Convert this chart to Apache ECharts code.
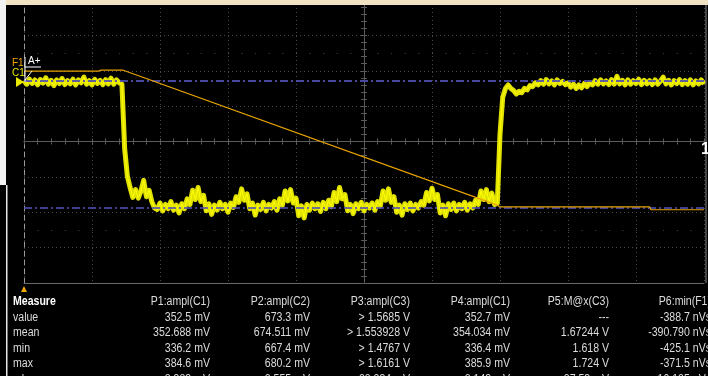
<!DOCTYPE html>
<html>
<head>
<meta charset="utf-8">
<script src="https://cdn.jsdelivr.net/npm/echarts@6/dist/echarts.min.js"></script>
<style>
  html, body { margin: 0; padding: 0; background: #000; }
  #scope { width: 708px; height: 376px; }
</style>
</head>
<body>
<div id="scope"></div>
<script>
// Time base: one sample every 0.04 horizontal divisions (10 divisions on screen)
const sampleStep = 0.04;

// C1 acquisition, vertical position in divisions (screen centre = 0)
const c1Samples = [
  // high level before the falling edge
  1.72,1.62,1.76,1.64,1.74,1.60,1.75,1.65,1.80,1.62,
  1.73,1.58,1.74,1.64,1.78,1.61,1.72,1.63,1.76,1.60,
  1.74,1.66,1.82,1.62,1.72,1.60,1.76,1.64,1.73,1.61,
  1.75,1.63,1.79,1.62,1.74,1.66,
  // falling edge and ringing
  1.62,-0.20,-0.98,-1.30,-1.58,-1.36,-1.60,-1.40,-1.10,-1.56,
  -1.38,-1.70,-1.88,
  // low level
  -1.92,-1.74,-1.96,-1.78,-1.90,-1.70,-1.94,-1.80,-2.02,-1.76,
  -1.90,-1.62,-1.78,-1.38,-1.64,-1.30,-1.70,-1.52,-1.96,-1.76,
  -2.06,-1.80,-1.94,-1.72,-1.90,-1.78,-2.00,-1.74,-1.86,-1.56,
  -1.72,-1.34,-1.66,-1.48,-1.90,-1.74,-2.08,-1.80,-1.92,-1.72,
  -1.96,-1.78,-1.88,-1.70,-1.94,-1.62,-1.80,-1.40,-1.68,-1.36,
  -1.74,-1.60,-2.10,-1.82,-2.16,-1.78,-1.94,-1.74,-1.90,-1.76,
  -1.98,-1.72,-1.90,-1.66,-1.84,-1.44,-1.70,-1.30,-1.62,-1.50,
  -1.96,-1.78,-2.04,-1.76,-1.90,-1.72,-1.96,-1.78,-1.88,-1.74,
  -1.94,-1.70,-1.82,-1.40,-1.66,-1.34,-1.72,-1.56,-2.00,-1.80,
  -2.08,-1.76,-1.92,-1.74,-1.96,-1.78,-1.88,-1.70,-1.80,-1.44,
  -1.68,-1.32,-1.64,-1.50,-2.02,-1.80,-2.10,-1.76,-1.92,-1.74,
  -1.96,-1.78,-1.90,-1.72,-1.94,-1.76,-1.88,-1.66,-1.78,-1.40,
  -1.64,-1.36,-1.70,-1.46,-1.78,
  // rising edge with overshoot and settling
  -1.75,0.20,1.25,1.50,1.60,1.50,1.44,1.34,1.42,1.38,
  1.50,1.46,1.58,1.55,1.66,1.60,
  // high level after the rising edge
  1.72,1.62,1.75,1.63,1.71,1.60,1.74,1.64,1.70,1.61,
  1.66,1.54,1.62,1.50,1.60,1.52,1.64,1.55,1.66,1.60,
  1.72,1.62,1.74,1.63,1.71,1.61,1.75,1.62,1.84,1.63,
  1.73,1.60,1.74,1.62,1.72,1.64,1.76,1.61,1.73,1.63,
  1.72,1.61,1.74,1.62,1.71,1.82,1.63,1.73,1.60,1.72,
  1.64,1.75,1.61,1.72,1.62,1.74,1.60,1.71,1.63,1.74,1.62
];

// F1 math trace vertices [division, division]
const f1Points = [
  [0, 1.99], [1.10, 1.99], [1.13, 2.02], [1.45, 2.02],
  [6.96, -1.80], [7.00, -1.85], [9.20, -1.85], [9.22, -1.93], [10, -1.93]
];

// Measurement level cursors (divisions)
const topLevel = 1.71;
const baseLevel = -1.88;

// Measurement table
const measureHeaders = ['P1:ampl(C1)', 'P2:ampl(C2)', 'P3:ampl(C3)', 'P4:ampl(C1)', 'P5:M@x(C3)', 'P6:min(F1)'];
const rowLabels = ['value', 'mean', 'min', 'max', 'sdev'];
const valueRow = ['352.5 mV', '673.3 mV', '> 1.5685 V', '352.7 mV', '---', '-388.7 nVs'];
const meanRow = ['352.688 mV', '674.511 mV', '> 1.553928 V', '354.034 mV', '1.67244 V', '-390.790 nVs'];
const minRow = ['336.2 mV', '667.4 mV', '> 1.4767 V', '336.4 mV', '1.618 V', '-425.1 nVs'];
const maxRow = ['384.6 mV', '680.2 mV', '> 1.6161 V', '385.9 mV', '1.724 V', '-371.5 nVs'];
const sdevRow = ['8.383 mV', '2.555 mV', '28.234 mV', '8.143 mV', '27.53 mV', '10.125 nVs'];

const c1Data = c1Samples.map((v, i) => [+(i * sampleStep).toFixed(2), v]);

const FONT = '"Liberation Sans", Arial, sans-serif';
const colRight = [210, 310, 410, 510, 609, 711];
const rowY = [302, 317.5, 333, 348.5, 364, 379.5];
const NARROW = 0.88;

function cell(x, y, text, align, fill, weight) {
  return {
    type: 'text', x: x, y: y, scaleX: NARROW, z: 100,
    style: {
      text: text, fill: fill, font: (weight || '') + ' 12px ' + FONT,
      textAlign: align, textVerticalAlign: 'middle'
    }
  };
}

const tableGraphics = [cell(13, rowY[0], 'Measure', 'left', '#ffffff', 'bold')];
measureHeaders.forEach((h, c) => tableGraphics.push(cell(colRight[c], rowY[0], h, 'right', '#dcdcdc')));
[valueRow, meanRow, minRow, maxRow, sdevRow].forEach((row, r) => {
  tableGraphics.push(cell(13, rowY[r + 1], rowLabels[r], 'left', '#dcdcdc'));
  row.forEach((t, c) => tableGraphics.push(cell(colRight[c], rowY[r + 1], t, 'right', '#dcdcdc')));
});

const chart = echarts.init(document.getElementById('scope'), null, { renderer: 'canvas' });

const centreAxis = (inside) => ({
  show: true, splitLine: { show: false },
  axisLine: { show: true, lineStyle: { color: '#5a5a5a', width: 1 } },
  axisTick: { show: true, inside: inside, length: 3, lineStyle: { color: '#5a5a5a' } },
  minorTick: { show: true, splitNumber: 5, length: 3, lineStyle: { color: '#5a5a5a' } },
  axisLabel: { show: false }
});

chart.setOption({
  backgroundColor: '#000000',
  animation: false,
  grid: { left: 24, right: 4, top: 0, bottom: 93 },
  xAxis: [
    {
      type: 'value', min: 0, max: 10, interval: 1,
      axisLine: { show: true, onZero: false, lineStyle: { color: '#6a6a6a' } },
      axisTick: { show: false }, axisLabel: { show: false },
      splitLine: { show: true, lineStyle: { color: '#4a4a4a', type: [1, 3] } }
    },
    Object.assign({ type: 'value', min: 0, max: 10, interval: 1, position: 'bottom', offset: -141.5 }, centreAxis(true)),
    Object.assign({ type: 'value', min: 0, max: 10, interval: 1, position: 'bottom', offset: -141.5 }, centreAxis(false))
  ],
  yAxis: [
    {
      type: 'value', min: -4, max: 4, interval: 1,
      axisLine: { show: true, onZero: false, lineStyle: { color: '#9a9a9a', type: [5, 4] } },
      axisTick: { show: false }, axisLabel: { show: false },
      splitLine: { show: true, lineStyle: { color: '#4a4a4a', type: [1, 3] } }
    },
    Object.assign({ type: 'value', min: -4, max: 4, interval: 1, position: 'left', offset: -340 }, centreAxis(true)),
    Object.assign({ type: 'value', min: -4, max: 4, interval: 1, position: 'left', offset: -340 }, centreAxis(false))
  ],
  series: [
    {
      name: 'C1 band', type: 'line', data: c1Data, showSymbol: false, silent: true,
      lineStyle: { color: '#e2e200', width: 5, join: 'round' }, z: 3
    },
    {
      name: 'C1', type: 'line', data: c1Data, showSymbol: false, silent: true,
      lineStyle: { color: '#ffff00', width: 1, join: 'miter', miterLimit: 8 }, z: 4
    },
    {
      name: 'top level', type: 'line', data: [[0, topLevel], [10, topLevel]], showSymbol: false, silent: true,
      lineStyle: { color: '#5050b0', width: 2, type: [8, 3, 2, 3], opacity: 0.9 }, z: 5
    },
    {
      name: 'base level', type: 'line', data: [[0, baseLevel], [10, baseLevel]], showSymbol: false, silent: true,
      lineStyle: { color: '#5050b0', width: 2, type: [8, 3, 2, 3], opacity: 0.8 }, z: 5
    },
    {
      name: 'F1', type: 'line', data: f1Points, showSymbol: false, silent: true,
      lineStyle: { color: '#e8a400', width: 1.2 }, z: 6,
      markLine: {
        silent: true, symbol: 'none', label: { show: false },
        lineStyle: { color: '#4a4a4a', type: [1, 12.6], width: 1 },
        data: [{ yAxis: 2.5 }, { yAxis: -2.5 }]
      }
    }
  ],
  graphic: [
    { type: 'rect', shape: { x: 0, y: 0, width: 708, height: 5 }, style: { fill: '#efe3c4' }, z: 100 },
    { type: 'rect', shape: { x: 0, y: 0, width: 6, height: 185 }, style: { fill: '#f2f2f2' }, z: 100 },
    { type: 'rect', shape: { x: 6, y: 185, width: 1.5, height: 191 }, style: { fill: '#e8e8e8' }, z: 100 },
    { type: 'line', shape: { x1: 706, y1: 5, x2: 706, y2: 283 }, style: { stroke: '#8a8a8a', lineWidth: 1 }, z: 100 },
    { type: 'polygon', shape: { points: [[21, 292], [27, 292], [24, 286]] }, style: { fill: '#f0a800' }, z: 100 },
    { type: 'text', x: 12, y: 63, style: { text: 'F1', fill: '#f0a800', font: '10px ' + FONT, textVerticalAlign: 'middle' }, z: 100 },
    { type: 'text', x: 12, y: 73, style: { text: 'C1', fill: '#e8e800', font: '10px ' + FONT, textVerticalAlign: 'middle' }, z: 100 },
    { type: 'text', x: 28, y: 61, style: { text: 'A+', fill: '#ffffff', font: '10px ' + FONT, textVerticalAlign: 'middle' }, z: 100 },
    { type: 'line', shape: { x1: 25, y1: 67, x2: 41, y2: 67 }, style: { stroke: '#ffffff', lineWidth: 1 }, z: 100 },
    { type: 'line', shape: { x1: 25, y1: 57, x2: 25, y2: 82 }, style: { stroke: '#ffffff', lineWidth: 1 }, z: 100 },
    { type: 'line', shape: { x1: 25, y1: 80, x2: 32, y2: 71 }, style: { stroke: '#ffffff', lineWidth: 1 }, z: 100 },
    { type: 'polygon', shape: { points: [[16, 77], [16, 87], [24, 82]] }, style: { fill: '#e8e800' }, z: 99 },
    { type: 'text', x: 701, y: 150, style: { text: '1', fill: '#ffffff', font: 'bold 16px ' + FONT, textVerticalAlign: 'middle' }, z: 100 }
  ].concat(tableGraphics)
});
</script>
</body>
</html>
